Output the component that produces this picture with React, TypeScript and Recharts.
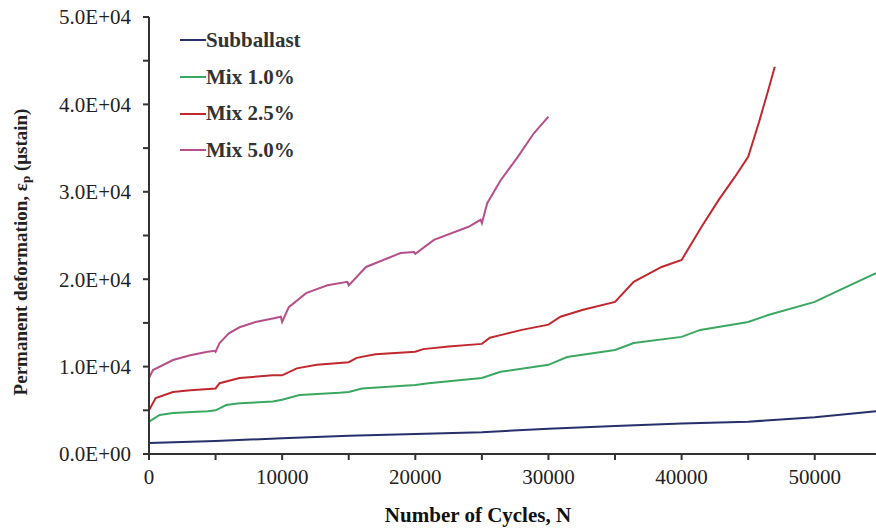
import React from 'react';
import { LineChart, Line, XAxis, YAxis, Legend } from 'recharts';

// Permanent strain vs. load cycles for subballast and the three mixes
const subballastCycles = [0, 5000, 10000, 15000, 20000, 25000, 30000, 35000, 40000, 45000, 50000, 54600];
const subballastStrain = [1260, 1500, 1800, 2100, 2300, 2500, 2900, 3200, 3500, 3700, 4200, 4900];

const mix10Cycles = [0, 800, 1800, 4400, 5000, 5800, 6800, 9300, 10000, 11300, 14300, 15000, 16000, 20000, 21000, 25000, 26400, 30000, 31400, 35000, 36400, 40000, 41400, 45000, 46500, 50000, 51500, 54600];
const mix10Strain = [3700, 4460, 4700, 4900, 5000, 5600, 5800, 6000, 6200, 6750, 7000, 7100, 7500, 7900, 8100, 8700, 9400, 10200, 11100, 11900, 12700, 13400, 14200, 15100, 15900, 17400, 18500, 20700];

const mix25Cycles = [0, 500, 1800, 3100, 5000, 5300, 6800, 9300, 10000, 11100, 12600, 14300, 15000, 15600, 17000, 20000, 20600, 22500, 25000, 25600, 26400, 28000, 30000, 30900, 32600, 35000, 36400, 38500, 40000, 41500, 42800, 44000, 45000, 45800, 46500, 47000];
const mix25Strain = [5000, 6400, 7100, 7300, 7500, 8100, 8700, 9000, 9000, 9800, 10200, 10400, 10500, 11000, 11400, 11700, 12000, 12300, 12600, 13300, 13600, 14200, 14800, 15700, 16500, 17400, 19700, 21400, 22200, 26000, 29100, 31700, 34000, 37900, 41600, 44300];

const mix50Cycles = [0, 300, 1800, 3100, 4400, 4950, 5000, 5300, 6000, 6800, 8000, 9300, 9900, 10000, 10500, 11800, 13400, 14900, 15000, 16300, 18900, 19900, 20000, 21400, 24000, 24900, 25000, 25400, 26400, 27700, 28900, 30000];
const mix50Strain = [8700, 9600, 10750, 11300, 11700, 11800, 11700, 12700, 13800, 14500, 15100, 15500, 15700, 15100, 16800, 18400, 19300, 19700, 19300, 21400, 23000, 23100, 22900, 24500, 26000, 26800, 26400, 28700, 31300, 34000, 36700, 38600];

const xTicks = [0, 5000, 10000, 15000, 20000, 25000, 30000, 35000, 40000, 45000, 50000];
const yTicks = [0, 5000, 10000, 15000, 20000, 25000, 30000, 35000, 40000, 45000, 50000];

const toPoints = (cycles: number[], strain: number[]) =>
  cycles.map((n, i) => ({ n, v: strain[i] }));

const series = [
  { name: 'Subballast', color: '#27306b', data: toPoints(subballastCycles, subballastStrain) },
  { name: 'Mix 1.0%', color: '#3aa860', data: toPoints(mix10Cycles, mix10Strain) },
  { name: 'Mix 2.5%', color: '#c0282e', data: toPoints(mix25Cycles, mix25Strain) },
  { name: 'Mix 5.0%', color: '#b5508a', data: toPoints(mix50Cycles, mix50Strain) },
];

const FONT = '"Liberation Serif", "Times New Roman", serif';

const sci = (v: number) => {
  if (v === 0) return '0.0E+00';
  const exp = Math.floor(Math.log10(v));
  return `${(v / Math.pow(10, exp)).toFixed(1)}E+${String(exp).padStart(2, '0')}`;
};

const yTickFormat = (v: number) => (v % 10000 === 0 ? sci(v) : '');
const xTickFormat = (v: number) => (v % 10000 === 0 ? String(v) : '');

// keep legend rows in series order (recharts sorts them by name otherwise)
const renderLegend = (props: any) => {
  const items = props.payload || [];
  const ordered = series
    .map((s) => items.find((it: any) => it.value === s.name))
    .filter(Boolean);
  return (
    <div style={{ fontFamily: FONT, fontWeight: 'bold', fontSize: 21, color: '#333' }}>
      {ordered.map((it: any) => (
        <div key={it.value} style={{ display: 'flex', alignItems: 'center', height: 36.7 }}>
          <span style={{ display: 'inline-block', width: 26, height: 2, background: it.color }} />
          <span>{it.value}</span>
        </div>
      ))}
    </div>
  );
};

const YTitle = () => (
  <text
    x={20}
    y={252}
    transform="rotate(-90 20 252)"
    textAnchor="middle"
    dominantBaseline="central"
    fontFamily={FONT}
    fontWeight="bold"
    fontSize={19}
    fill="#222"
  >
    Permanent deformation, ε<tspan dy={5} fontSize={13}>p</tspan>
    <tspan dy={-5}> (μstain)</tspan>
  </text>
);

const XTitle = () => (
  <text x={478} y={522} textAnchor="middle" fontFamily={FONT} fontWeight="bold" fontSize={21} fill="#111">
    Number of Cycles, N
  </text>
);

export default function App() {
  return (
    <div style={{ position: 'absolute', left: 0, top: 0, background: '#fff' }}>
      <LineChart width={876} height={529} margin={{ top: 17, right: 0, bottom: 0, left: 0 }}>
        <XAxis
          type="number"
          dataKey="n"
          domain={[0, 54600]}
          ticks={xTicks}
          tickFormatter={xTickFormat}
          interval={0}
          allowDataOverflow
          height={75}
          stroke="#333"
          strokeWidth={2}
          tickSize={6}
          tickMargin={9}
          tick={{ fontFamily: FONT, fontSize: 21, fill: '#222' }}
          label={{ content: () => <XTitle /> }}
        />
        <YAxis
          type="number"
          dataKey="v"
          domain={[0, 50000]}
          ticks={yTicks}
          tickFormatter={yTickFormat}
          interval={0}
          width={149}
          stroke="#333"
          strokeWidth={2}
          tickSize={6}
          tickMargin={12}
          tick={{ fontFamily: FONT, fontSize: 21, fill: '#222' }}
          label={{ content: () => <YTitle /> }}
        />
        <Legend
          layout="vertical"
          align="center"
          verticalAlign="middle"
          content={renderLegend}
          wrapperStyle={{ left: 180, top: 22, width: 'auto' }}
        />
        {series.map((s) => (
          <Line
            key={s.name}
            name={s.name}
            data={s.data}
            dataKey="v"
            type="linear"
            stroke={s.color}
            strokeWidth={2}
            dot={false}
            isAnimationActive={false}
          />
        ))}
      </LineChart>
    </div>
  );
}
